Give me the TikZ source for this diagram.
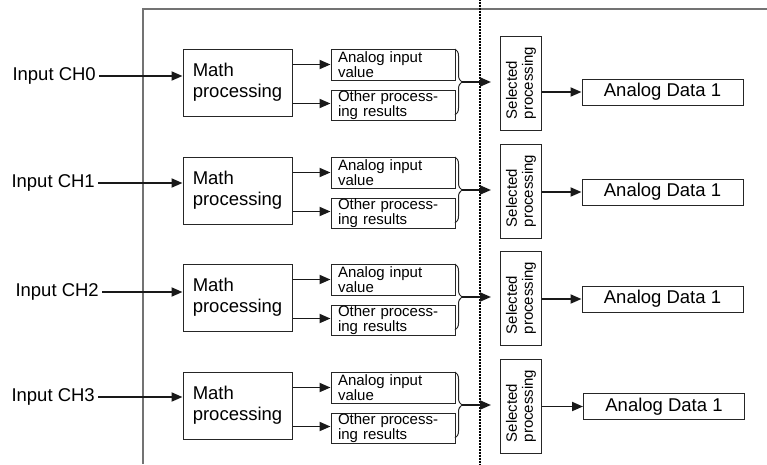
\documentclass[tikz,border=0pt]{standalone}
\usepackage{fontspec}
\setmainfont{Liberation Sans}
\usetikzlibrary{arrows.meta,decorations.pathreplacing}
\begin{document}
\begin{tikzpicture}[x=1pt,y=-1pt,
  box/.style={draw=black!85,line width=1pt,inner sep=0pt},
  arr/.style={draw=black!90,line width=1.9pt,-{Triangle[length=11pt,width=9pt]}},
  bigfont/.style={font=\fontsize{18.5}{21}\selectfont},
  smallfont/.style={font=\fontsize{15}{13.4}\selectfont},
  selfont/.style={font=\fontsize{15}{16}\selectfont},
  frameline/.style={draw=black!55,line width=1.4pt},
  sepline/.style={draw=black,line width=1.7pt,dash pattern=on 0.9pt off 0.6pt},
  bracestyle/.style={draw=black!85,line width=1pt,decorate,decoration={brace,amplitude=7pt}}]
\useasboundingbox (0,0) rectangle (767,464);
% frame and separator
\draw[frameline] (767,9) -- (143,9) -- (143,464);
\draw[sepline] (480,0) -- (480,464);
\foreach \i/\y/\yin/\xin/\yd/\xd in {0/49/76/96/92/662.5, 1/157/183/95/192/662.5, 2/264/292/99/299/662.5, 3/372/397/95/406.5/664} {
  \node[bigfont, anchor=east, inner sep=0pt] (in\i) at (\xin,\yin) {Input CH\i};
  \node[box, bigfont, minimum width=109pt, minimum height=67pt, align=left] (m\i) at (237.5,\y+33.5) {Math\\processing};
  \node[box, smallfont, text width=110pt, inner xsep=7pt, minimum height=31pt, align=left] (a\i) at (393,\y+15.5) {Analog input\\value};
  \node[box, smallfont, text width=110pt, inner xsep=7pt, minimum height=30pt, align=left] (o\i) at (393,\y+56) {Other process-\\ing results};
  \node[box, selfont, rotate=90, minimum width=94pt, minimum height=41pt, align=left] (s\i) at (521,\y+34) {Selected\\processing};
  \node[box, bigfont, minimum width=161pt, minimum height=26pt] (d\i) at (\xd,\yd) {Analog Data 1};
  \draw[bracestyle] (455,\y) -- (455,\y+66);
  \coordinate (b\i) at (462,\y+33);
  \draw[arr, shorten <=3pt] (in\i.east) -- (in\i.east -| m\i.west);
  \draw[arr] (a\i.west -| m\i.east) -- (a\i.west);
  \draw[arr] ([yshift=1.5pt]o\i.west -| m\i.east) -- ([yshift=1.5pt]o\i.west);
  \draw[arr, shorten >=9pt] (b\i) -- (b\i -| s\i.north);
  \draw[arr] (d\i.west -| s\i.south) -- (d\i.west);
}
\end{tikzpicture}
\end{document}
